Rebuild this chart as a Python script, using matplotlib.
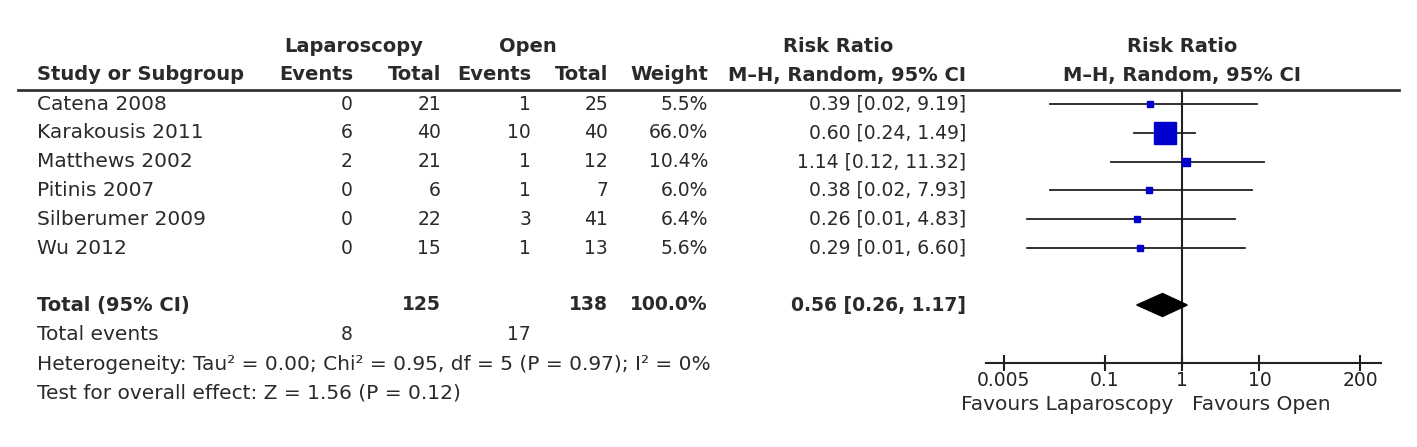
import numpy as np
import matplotlib
matplotlib.use("Agg")
import matplotlib.pyplot as plt

# study data
studies = ["Catena 2008", "Karakousis 2011", "Matthews 2002", "Pitinis 2007",
           "Silberumer 2009", "Wu 2012"]
lap_events = [0, 6, 2, 0, 0, 0]
lap_total = [21, 40, 21, 6, 22, 15]
open_events = [1, 10, 1, 1, 3, 1]
open_total = [25, 40, 12, 7, 41, 13]
weights = [5.5, 66.0, 10.4, 6.0, 6.4, 5.6]
rr = [0.39, 0.60, 1.14, 0.38, 0.26, 0.29]
ci_low = [0.02, 0.24, 0.12, 0.02, 0.01, 0.01]
ci_high = [9.19, 1.49, 11.32, 7.93, 4.83, 6.60]

# pooled
tot_lap, tot_open = 125, 138
tot_weight = 100.0
tot_ev_lap, tot_ev_open = 8, 17
pooled_rr, pooled_low, pooled_high = 0.56, 0.26, 1.17

axis_ticks = [0.005, 0.1, 1, 10, 200]
tick_labels = ["0.005", "0.1", "1", "10", "200"]

W, H = 1417, 447
fig = plt.figure(figsize=(W / 100, H / 100), dpi=100)
plt.rcParams['font.family'] = ['DejaVu Sans']
fs = 14.5     # words
fn = 13.5     # numbers
col = '#2a2a2a'

ax = fig.add_axes([0, 0, 1, 1])
ax.set_xlim(0, W)
ax.set_ylim(H, 0)
ax.axis('off')

# layout (pixel positions)
row0, step = 104, 28.8
row_y = [row0 + i * step for i in range(len(studies))]
y_total, y_events, y_het, y_test = 305, 335, 364, 393
x_name = 37
x_le, x_lt, x_oe, x_ot, x_w, x_ci = 353, 441, 531, 608, 708, 966

# headers
hb = dict(fontsize=fs - 0.5, fontweight='bold', color=col, va='center')
ax.text(354, 46, "Laparoscopy", ha='center', **hb)
ax.text(528, 46, "Open", ha='center', **hb)
ax.text(838, 46, "Risk Ratio", ha='center', **hb)
ax.text(1182, 46, "Risk Ratio", ha='center', **hb)
ax.text(x_name, 75, "Study or Subgroup", ha='left', **hb)
ax.text(x_le, 75, "Events", ha='right', **hb)
ax.text(x_lt, 75, "Total", ha='right', **hb)
ax.text(x_oe, 75, "Events", ha='right', **hb)
ax.text(x_ot, 75, "Total", ha='right', **hb)
ax.text(x_w, 75, "Weight", ha='right', **hb)
ax.text(x_ci, 75, "M\u2013H, Random, 95% CI", ha='right', **hb)
ax.text(1182, 75, "M\u2013H, Random, 95% CI", ha='center', **hb)
ax.plot([18, 1399], [90, 90], color='#333333', lw=2)

tw = dict(fontsize=fs, color=col, va='center')
tn = dict(fontsize=fn, color=col, va='center')
bn = dict(fontsize=fn, fontweight='bold', color=col, va='center')
for i, y in enumerate(row_y):
    ax.text(x_name, y, studies[i], ha='left', **tw)
    ax.text(x_le, y, str(lap_events[i]), ha='right', **tn)
    ax.text(x_lt, y, str(lap_total[i]), ha='right', **tn)
    ax.text(x_oe, y, str(open_events[i]), ha='right', **tn)
    ax.text(x_ot, y, str(open_total[i]), ha='right', **tn)
    ax.text(x_w, y, f"{weights[i]:.1f}%", ha='right', **tn)
    ax.text(x_ci, y, f"{rr[i]:.2f} [{ci_low[i]:.2f}, {ci_high[i]:.2f}]", ha='right', **tn)

ax.text(x_name, y_total, "Total (95% CI)", ha='left', fontsize=fs - 0.5,
        fontweight='bold', color=col, va='center')
ax.text(x_lt, y_total, str(tot_lap), ha='right', **bn)
ax.text(x_ot, y_total, str(tot_open), ha='right', **bn)
ax.text(x_w, y_total, f"{tot_weight:.1f}%", ha='right', **bn)
ax.text(x_ci, y_total, f"{pooled_rr:.2f} [{pooled_low:.2f}, {pooled_high:.2f}]", ha='right', **bn)

ax.text(x_name, y_events, "Total events", ha='left', **tw)
ax.text(x_le, y_events, str(tot_ev_lap), ha='right', **tn)
ax.text(x_oe, y_events, str(tot_ev_open), ha='right', **tn)
ax.text(x_name, y_het, "Heterogeneity: Tau\u00b2 = 0.00; Chi\u00b2 = 0.95, df = 5 (P = 0.97); I\u00b2 = 0%",
        ha='left', **tw)
ax.text(x_name, y_test, "Test for overall effect: Z = 1.56 (P = 0.12)", ha='left', **tw)

# forest panel
x_one, px_dec = 1182, 77.4
fx0, fx1, fy_top, fy_axis = 986, 1381, 90, 363
fax = fig.add_axes([fx0 / W, (H - fy_axis) / H, (fx1 - fx0) / W, (fy_axis - fy_top) / H])
fax.patch.set_alpha(0)
fax.set_xscale('log')
fax.set_xlim(10 ** ((fx0 - x_one) / px_dec), 10 ** ((fx1 - x_one) / px_dec))
fax.set_ylim(fy_axis, fy_top)
for s in ['top', 'left', 'right']:
    fax.spines[s].set_visible(False)
fax.spines['bottom'].set_linewidth(1.5)
fax.spines['bottom'].set_color('#222222')
fax.set_yticks([])
fax.set_xticks(axis_ticks)
fax.set_xticklabels(tick_labels)
fax.xaxis.set_minor_locator(matplotlib.ticker.NullLocator())
fax.tick_params(axis='x', direction='inout', length=12, width=1.5, labelsize=fn,
                colors='#222222', pad=0)
fax.axvline(1, color='#222222', lw=1.5)

max_side = 15.8
for i, y in enumerate(row_y):
    fax.plot([ci_low[i], ci_high[i]], [y, y], color='#222222', lw=1.3)
    fax.plot(rr[i], y, marker='s', color='#0000cc', ms=max_side * np.sqrt(weights[i] / max(weights)),
             mec='#0000cc')

dh = 11.5
fax.fill([pooled_low, pooled_rr, pooled_high, pooled_rr],
         [y_total, y_total - dh, y_total, y_total + dh], color='black', zorder=3)

ax.text(1173, 405, "Favours Laparoscopy", ha='right', **tw)
ax.text(1192, 405, "Favours Open", ha='left', **tw)

fig.savefig("out.png", dpi=100)
